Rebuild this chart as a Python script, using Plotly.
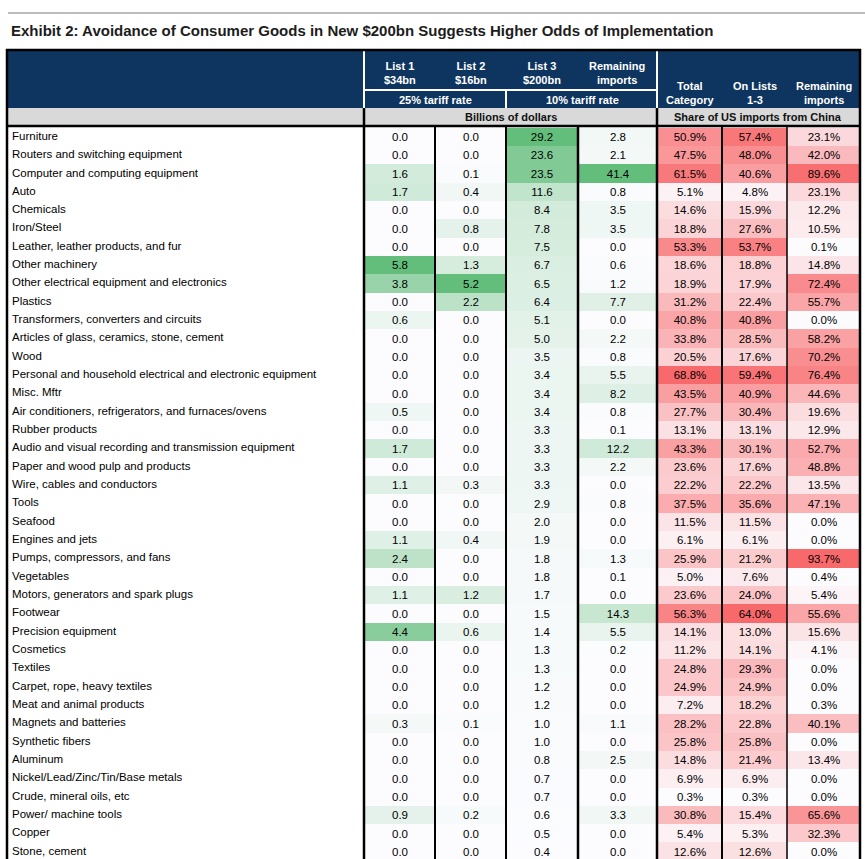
import plotly.graph_objects as go

W, H = 865, 859

categories = [
    "Furniture", "Routers and switching equipment", "Computer and computing equipment", "Auto",
    "Chemicals", "Iron/Steel", "Leather, leather products, and fur", "Other machinery",
    "Other electrical equipment and electronics", "Plastics", "Transformers, converters and circuits",
    "Articles of glass, ceramics, stone, cement", "Wood",
    "Personal and household electrical and electronic equipment", "Misc. Mftr",
    "Air conditioners, refrigerators, and furnaces/ovens", "Rubber products",
    "Audio and visual recording and transmission equipment", "Paper and wood pulp and products",
    "Wire, cables and conductors", "Tools", "Seafood", "Engines and jets",
    "Pumps, compressors, and fans", "Vegetables", "Motors, generators and spark plugs", "Footwear",
    "Precision equipment", "Cosmetics", "Textiles", "Carpet, rope, heavy textiles",
    "Meat and animal products", "Magnets and batteries", "Synthetic fibers", "Aluminum",
    "Nickel/Lead/Zinc/Tin/Base metals", "Crude, mineral oils, etc", "Power/ machine tools",
    "Copper", "Stone, cement",
]

# billions of dollars
list1 = [0.0, 0.0, 1.6, 1.7, 0.0, 0.0, 0.0, 5.8, 3.8, 0.0, 0.6, 0.0, 0.0, 0.0, 0.0, 0.5, 0.0, 1.7, 0.0, 1.1,
         0.0, 0.0, 1.1, 2.4, 0.0, 1.1, 0.0, 4.4, 0.0, 0.0, 0.0, 0.0, 0.3, 0.0, 0.0, 0.0, 0.0, 0.9, 0.0, 0.0]
list2 = [0.0, 0.0, 0.1, 0.4, 0.0, 0.8, 0.0, 1.3, 5.2, 2.2, 0.0, 0.0, 0.0, 0.0, 0.0, 0.0, 0.0, 0.0, 0.0, 0.3,
         0.0, 0.0, 0.4, 0.0, 0.0, 1.2, 0.0, 0.6, 0.0, 0.0, 0.0, 0.0, 0.1, 0.0, 0.0, 0.0, 0.0, 0.2, 0.0, 0.0]
list3 = [29.2, 23.6, 23.5, 11.6, 8.4, 7.8, 7.5, 6.7, 6.5, 6.4, 5.1, 5.0, 3.5, 3.4, 3.4, 3.4, 3.3, 3.3, 3.3, 3.3,
         2.9, 2.0, 1.9, 1.8, 1.8, 1.7, 1.5, 1.4, 1.3, 1.3, 1.2, 1.2, 1.0, 1.0, 0.8, 0.7, 0.7, 0.6, 0.5, 0.4]
remaining_bn = [2.8, 2.1, 41.4, 0.8, 3.5, 3.5, 0.0, 0.6, 1.2, 7.7, 0.0, 2.2, 0.8, 5.5, 8.2, 0.8, 0.1, 12.2, 2.2, 0.0,
                0.8, 0.0, 0.0, 1.3, 0.1, 0.0, 14.3, 5.5, 0.2, 0.0, 0.0, 0.0, 1.1, 0.0, 2.5, 0.0, 0.0, 3.3, 0.0, 0.0]

# share of US imports from China, %
total_share = [50.9, 47.5, 61.5, 5.1, 14.6, 18.8, 53.3, 18.6, 18.9, 31.2, 40.8, 33.8, 20.5, 68.8, 43.5, 27.7, 13.1,
               43.3, 23.6, 22.2, 37.5, 11.5, 6.1, 25.9, 5.0, 23.6, 56.3, 14.1, 11.2, 24.8, 24.9, 7.2, 28.2, 25.8,
               14.8, 6.9, 0.3, 30.8, 5.4, 12.6]
on_lists_share = [57.4, 48.0, 40.6, 4.8, 15.9, 27.6, 53.7, 18.8, 17.9, 22.4, 40.8, 28.5, 17.6, 59.4, 40.9, 30.4, 13.1,
                  30.1, 17.6, 22.2, 35.6, 11.5, 6.1, 21.2, 7.6, 24.0, 64.0, 13.0, 14.1, 29.3, 24.9, 18.2, 22.8, 25.8,
                  21.4, 6.9, 0.3, 15.4, 5.3, 12.6]
remaining_share = [23.1, 42.0, 89.6, 23.1, 12.2, 10.5, 0.1, 14.8, 72.4, 55.7, 0.0, 58.2, 70.2, 76.4, 44.6, 19.6, 12.9,
                   52.7, 48.8, 13.5, 47.1, 0.0, 0.0, 93.7, 0.4, 5.4, 55.6, 15.6, 4.1, 0.0, 0.0, 0.3, 40.1, 0.0,
                   13.4, 0.0, 0.0, 65.6, 32.3, 0.0]

title = "Exhibit 2: Avoidance of Consumer Goods in New $200bn Suggests Higher Odds of Implementation"

NAVY = "#0e3560"
GREY = "#d9d9d9"
WHITE_SC = "#fcfcff"
GREEN = "#63be7b"
RED = "#f8696b"
FONT = "Liberation Sans, Arial, sans-serif"

# column edges (pixels) and table geometry
edges = [7, 364, 435, 506, 578, 657, 722, 787, 860]
row_top, row_h = 127.8, 18.33


def py(p):
    return 1 - p / H


columns = [
    (list1, GREEN, "{:.1f}"), (list2, GREEN, "{:.1f}"), (list3, GREEN, "{:.1f}"),
    (remaining_bn, GREEN, "{:.1f}"), (total_share, RED, "{:.1f}%"),
    (on_lists_share, RED, "{:.1f}%"), (remaining_share, RED, "{:.1f}%"),
]

rows = list(range(len(categories)))
fig = go.Figure()

for i, (vals, col, fmt) in enumerate(columns):
    fig.add_trace(go.Heatmap(
        x=[edges[i + 1], edges[i + 2]], y=rows, z=[[v] for v in vals],
        text=[[fmt.format(v)] for v in vals], texttemplate="%{text}",
        textfont=dict(family=FONT, size=11.5, color="#000000"),
        colorscale=[[0, WHITE_SC], [1, col]], zmin=min(vals), zmax=max(vals),
        showscale=False, hoverinfo="skip", xgap=0, ygap=0,
    ))

fig.add_trace(go.Scatter(
    x=[12] * len(categories), y=rows, mode="text", text=categories,
    textposition="middle right", textfont=dict(family=FONT, size=11.5, color="#000000"),
    hoverinfo="skip", showlegend=False,
))

shapes = []
# top grey rule
shapes.append(dict(type="line", xref="x", yref="paper", x0=8, x1=865, y0=py(13), y1=py(13),
                   line=dict(color="#bcbcbc", width=2)))
# navy header and grey units row
shapes.append(dict(type="rect", xref="x", yref="paper", x0=7, x1=860, y0=py(108), y1=py(50),
                   fillcolor=NAVY, line=dict(width=0), layer="below"))
shapes.append(dict(type="rect", xref="x", yref="paper", x0=7, x1=860, y0=py(126), y1=py(108),
                   fillcolor=GREY, line=dict(width=0), layer="below"))
# white separators inside the header
for xv in (364, 657):
    shapes.append(dict(type="line", xref="x", yref="paper", x0=xv, x1=xv, y0=py(108), y1=py(51),
                       line=dict(color="white", width=2)))
shapes.append(dict(type="line", xref="x", yref="paper", x0=364, x1=657, y0=py(90), y1=py(90),
                   line=dict(color="white", width=2)))
shapes.append(dict(type="line", xref="x", yref="paper", x0=506, x1=506, y0=py(90), y1=py(108),
                   line=dict(color="white", width=2)))
# black separators in units row and body
for xv in (364, 657):
    shapes.append(dict(type="line", xref="x", yref="paper", x0=xv, x1=xv, y0=0, y1=py(108),
                       line=dict(color="black", width=2.5)))
for xv, wd in ((435, 2), (506, 2), (578, 2.5), (722, 2), (787, 1.5)):
    shapes.append(dict(type="line", xref="x", yref="paper", x0=xv, x1=xv, y0=0, y1=py(126),
                       line=dict(color="black", width=wd)))
shapes.append(dict(type="line", xref="x", yref="paper", x0=7, x1=860, y0=py(126), y1=py(126),
                   line=dict(color="black", width=2.5)))
# outer frame
shapes.append(dict(type="rect", xref="x", yref="paper", x0=7, x1=860, y0=-0.02, y1=py(50),
                   line=dict(color="black", width=2.5)))


def note(txt, xc, yc, color, size=11, xanchor="center"):
    return dict(text="<b>" + txt + "</b>", x=xc, y=py(yc), xref="x", yref="paper",
                xanchor=xanchor, yanchor="middle", showarrow=False,
                font=dict(family=FONT, size=size, color=color))


annotations = [note(title, 9, 30, "#1c1c1c", size=15, xanchor="left")]

header_top = [("List 1<br>$34bn", 400), ("List 2<br>$16bn", 471), ("List 3<br>$200bn", 542),
              ("Remaining<br>imports", 617)]
for txt, xc in header_top:
    annotations.append(note(txt, xc, 73, "white"))
header_right = [("Total<br>Category", 690), ("On Lists<br>1-3", 755), ("Remaining<br>imports", 824)]
for txt, xc in header_right:
    annotations.append(note(txt, xc, 92.5, "white"))
for txt, xc in (("25% tariff rate", 435), ("10% tariff rate", 582)):
    annotations.append(note(txt, xc, 100, "white"))
for txt, xc in (("Billions of dollars", 511), ("Share of US imports from China", 758)):
    annotations.append(note(txt, xc, 117, "#111111"))

n_visible = (H - row_top) / row_h
fig.update_layout(
    width=W, height=H, margin=dict(l=0, r=0, t=0, b=0),
    paper_bgcolor="white", plot_bgcolor="white",
    xaxis=dict(range=[0, W], visible=False, fixedrange=True),
    yaxis=dict(range=[-0.5 + n_visible, -0.5], domain=[0, py(row_top)], visible=False, fixedrange=True),
    shapes=shapes, annotations=annotations, showlegend=False,
)

fig.write_html("out.html", config={"displayModeBar": False},
               post_script="document.body.style.margin='0px';")
